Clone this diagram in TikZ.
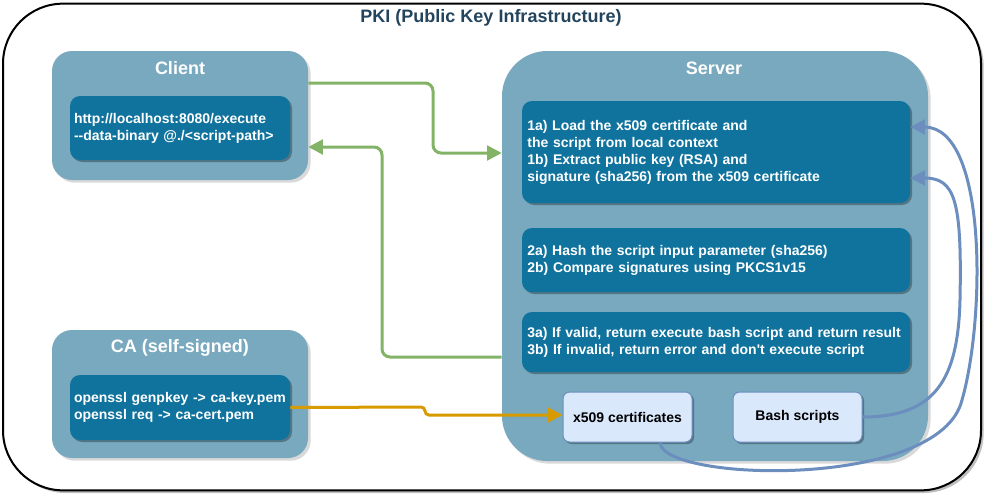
\documentclass[tikz,border=0pt]{standalone}
\usepackage{fontspec}
\setmainfont{Liberation Sans}[Ligatures=TeXOff]
\usepackage{tikz}
\usetikzlibrary{arrows.meta, shadows}
\definecolor{pkinavy}{HTML}{23445D}
\definecolor{boxlight}{HTML}{78A9BE}
\definecolor{boxdark}{HTML}{10739E}
\definecolor{certfill}{HTML}{DAE8FC}
\definecolor{certline}{HTML}{6C8EBF}
\definecolor{flowgreen}{HTML}{82B366}
\definecolor{floworange}{HTML}{D79B00}
\tikzset{
	framebox/.style={draw=black, line width=1.5pt, fill=white, rounded corners=45pt,
			minimum width=733.5pt, minimum height=365pt,
			drop shadow={shadow xshift=2pt, shadow yshift=-2pt, fill=black!25, opacity=1}}
}
\tikzset{
	framecaption/.style={font=\fontsize{13.5}{16}\selectfont\bfseries, text=pkinavy}
}
\tikzset{
	groupbox/.style={fill=boxlight, rounded corners=15pt, inner sep=0pt,
			drop shadow={shadow xshift=2pt, shadow yshift=-2pt, fill=black!15, opacity=1}}
}
\tikzset{
	groupcaption/.style={font=\fontsize{13.5}{16}\selectfont\bfseries, text=white}
}
\tikzset{
	stepbox/.style={fill=boxdark, text=white, rounded corners=7.5pt, align=left,
			inner xsep=4pt, inner ysep=0pt,
			font=\fontsize{10.5}{12.75}\selectfont\bfseries,
			execute at begin node={\hyphenpenalty=10000\exhyphenpenalty=10000\relax},
			drop shadow={shadow xshift=1.5pt, shadow yshift=-1.5pt, fill=black, opacity=.3}}
}
\tikzset{
	storebox/.style={fill=certfill, draw=certline, line width=.75pt, rounded corners=5pt,
			minimum width=96.75pt, minimum height=37.5pt, inner sep=0pt,
			font=\fontsize{10.5}{12.75}\selectfont\bfseries,
			drop shadow={shadow xshift=1.5pt, shadow yshift=-1.5pt, fill=black, opacity=.3}}
}

\begin{document}
\begin{tikzpicture}[x=0.75pt, y=-0.75pt]

	\useasboundingbox (0,0) rectangle (985,496);

	\node[framebox] (pki) at (492,247) {};
	\node[framecaption] (pkititle) at (491,18) {PKI (Public Key Infrastructure)};

	\begin{scope}
		\node[groupbox, minimum width=192pt, minimum height=96.75pt] (client) at (180,115.5) {};
		\node[groupcaption] (clienttitle) at (180,68) {Client};
		\node[stepbox, inner xsep=3pt, text width=159pt, minimum height=48pt] (clientcmd) at (180,128)
			{http://localhost:8080/execute\\{-}{-}data-binary @./<script-path>};
	\end{scope}

	\begin{scope}
		\node[groupbox, minimum width=192pt, minimum height=96pt] (ca) at (180,394) {};
		\node[groupcaption] (catitle) at (180,348) {CA (self-signed)};
		\node[stepbox, inner xsep=3pt, text width=159pt, minimum height=48.75pt] (cacmd) at (180,407.5)
			{openssl genpkey -> ca-key.pem\\openssl req -> ca-cert.pem};
	\end{scope}

	\begin{scope}
		\node[groupbox, rounded corners=34pt, minimum width=319.5pt, minimum height=307.5pt] (server) at (715,256) {};
		\node[groupcaption] (servertitle) at (714,68) {Server};
		\node[stepbox, text width=283pt, minimum height=76.5pt] (s1) at (716,152)
			{1a) Load the x509 certificate and\\the script from local context\\1b) Extract public key (RSA) and\\signature (sha256) from the x509 certificate};
		\node[stepbox, text width=283pt, minimum height=48pt] (s2) at (716,260)
			{2a) Hash the script input parameter (sha256)\\2b) Compare signatures using PKCS1v15};
		\node[stepbox, text width=283pt, minimum height=45pt] (s3) at (716,342)
			{3a) If valid, return execute bash script and return result\\3b) If invalid, return error and don't execute script};
		\node[storebox] (x509) at (627.5,417) {x509 certificates};
		\node[storebox] (bash) at (797.5,417) {Bash scripts};
	\end{scope}

	\begin{scope}
		\tikzset{
			greenflow/.style={draw=flowgreen, line width=2.25pt, rounded corners=6pt,
					-{Triangle[length=11pt, width=11pt]}},
			orangeflow/.style={draw=floworange, line width=2.25pt, rounded corners=3pt,
					-{Triangle[length=11pt, width=11pt]}},
			certflow/.style={draw=certline, line width=2.25pt,
					-{Triangle[length=11pt, width=11pt]}}
		}

		\draw[greenflow] (client.east |- 0,83) -- (433,83) -- (433,153) -- (server.west |- 0,153);
		\draw[greenflow] (server.west |- 0,357) -- (382,357) -- (382,147) -- (client.east |- 0,147);
		\draw[orangeflow] (cacmd.east) -- (425,407) -- (425,415) -- (x509.west |- 0,415);
		\draw[certflow] (x509.south -| 660,0) .. controls (662,482) and (940,490) .. (962,400)
			.. controls (985,320) and (988,127) .. (s1.east |- 0,127);
		\draw[certflow] (bash.east) .. controls (935,417) and (958,380) .. (960,300)
			.. controls (962,200) and (955,178) .. (s1.east |- 0,178);

	\end{scope}

\end{tikzpicture}
\end{document}
